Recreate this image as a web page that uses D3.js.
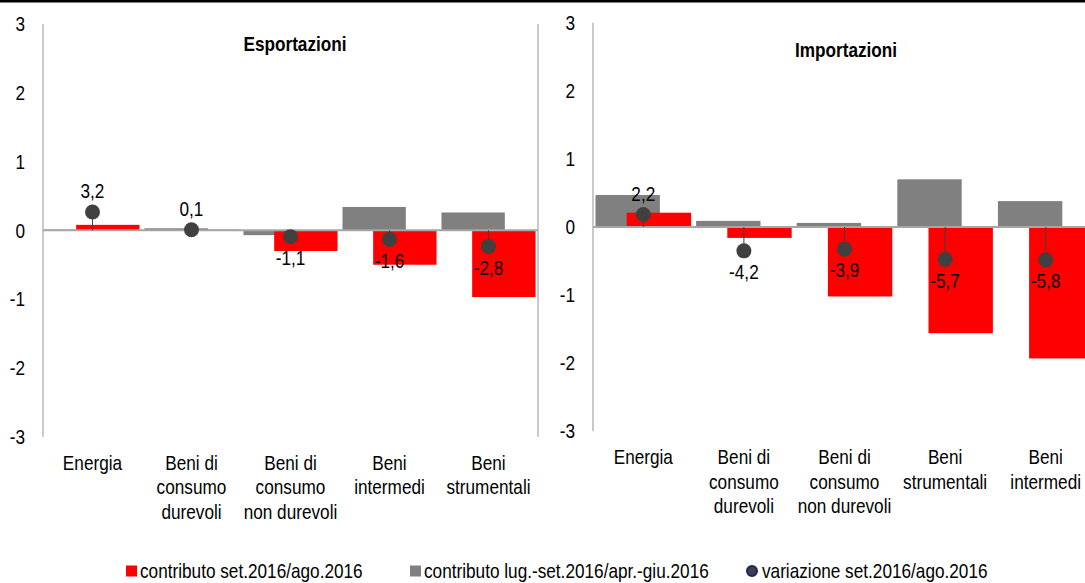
<!DOCTYPE html>
<html>
<head>
<meta charset="utf-8">
<script src="https://cdn.jsdelivr.net/npm/d3@7"></script>
<style>
  body { margin: 0; background: #fff; }
  svg { display: block; font-family: "Liberation Sans", Arial, sans-serif; }
</style>
</head>
<body>
<div id="chart"></div>
<script>
// categories (line breaks as in the original labels)
const categoriesExp = ["Energia", "Beni di\nconsumo\ndurevoli", "Beni di\nconsumo\nnon durevoli", "Beni\nintermedi", "Beni\nstrumentali"];
const categoriesImp = ["Energia", "Beni di\nconsumo\ndurevoli", "Beni di\nconsumo\nnon durevoli", "Beni\nstrumentali", "Beni\nintermedi"];

// contributo set.2016/ago.2016
const expMonth = [0.08, 0.01, -0.30, -0.50, -0.97];
const impMonth = [0.21, -0.16, -1.02, -1.56, -1.93];
// contributo lug.-set.2016/apr.-giu.2016
const expQuarter = [0.01, 0.03, -0.07, 0.34, 0.26];
const impQuarter = [0.47, 0.09, 0.06, 0.70, 0.38];
// variazione set.2016/ago.2016 (secondary axis)
const expChange = [3.2, 0.1, -1.1, -1.6, -2.8];
const impChange = [2.2, -4.2, -3.9, -5.7, -5.8];

const yTicks = [3, 2, 1, 0, -1, -2, -3];
const seriesNames = ["contributo set.2016/ago.2016", "contributo lug.-set.2016/apr.-giu.2016", "variazione set.2016/ago.2016"];

const width = 1085, height = 583;
const red = "#ff0000", grey = "#808080", dot = "#404040", axisGrey = "#a6a6a6";
const narrowK = 0.86; // no Arial Narrow here, so squeeze Liberation Sans
const fmt = v => v.toFixed(1).replace(".", ",");

let svg = d3.select("#chart").append("svg")
  .attr("width", width)
  .attr("height", height);

// thick rule at the top
svg.append("rect")
  .attr("x", 0).attr("y", 0)
  .attr("width", width).attr("height", 2.5)
  .attr("fill", "#000");

function panel(cfg) {
  let g = svg.append("g");

  let x = d3.scaleBand()
    .domain(cfg.categories)
    .range([cfg.left, cfg.right]);

  let y = d3.scaleLinear()
    .domain([-3, 3])
    .range([cfg.bottom, cfg.top]);

  // secondary (hidden) axis for the dots
  let y2 = d3.scaleLinear()
    .domain([-36, 36])
    .range([cfg.bottom, cfg.top]);

  const bw = x.bandwidth(),
    barW = bw * 0.64,
    shift = bw * 0.31;
  const cx = d => x(d) + bw / 2;

  // y tick labels
  g.selectAll(".ytick")
    .data(yTicks)
    .enter().append("text")
    .attr("x", cfg.left - 18)
    .attr("y", d => y(d))
    .attr("dy", "0.36em")
    .attr("text-anchor", "end")
    .attr("font-size", 20)
    .attr("fill", "#000")
    .text(d => d);

  // plot frame lines
  [cfg.left, cfg.right].forEach(px => {
    g.append("line")
      .attr("x1", px).attr("x2", px)
      .attr("y1", y(3)).attr("y2", y(-3))
      .attr("stroke", axisGrey)
      .attr("stroke-width", 1.2);
  });

  // grey bars behind, red in front
  g.selectAll(".bar-q")
    .data(cfg.categories)
    .enter().append("rect")
    .attr("x", d => cx(d) - shift / 2 - barW / 2)
    .attr("width", barW)
    .attr("y", (d, i) => y(Math.max(0, cfg.quarter[i])))
    .attr("height", (d, i) => Math.abs(y(cfg.quarter[i]) - y(0)))
    .attr("fill", grey);

  g.selectAll(".bar-m")
    .data(cfg.categories)
    .enter().append("rect")
    .attr("x", d => cx(d) + shift / 2 - barW / 2)
    .attr("width", barW)
    .attr("y", (d, i) => y(Math.max(0, cfg.month[i])))
    .attr("height", (d, i) => Math.abs(y(cfg.month[i]) - y(0)))
    .attr("fill", red);

  // zero line
  g.append("line")
    .attr("x1", cfg.left).attr("x2", cfg.right)
    .attr("y1", y(0)).attr("y2", y(0))
    .attr("stroke", axisGrey)
    .attr("stroke-width", 2);

  // drop lines + dots
  g.selectAll(".drop")
    .data(cfg.categories)
    .enter().append("line")
    .attr("x1", cx).attr("x2", cx)
    .attr("y1", y(0))
    .attr("y2", (d, i) => y2(cfg.change[i]))
    .attr("stroke", dot)
    .attr("stroke-width", 1);

  g.selectAll(".dot")
    .data(cfg.categories)
    .enter().append("circle")
    .attr("cx", cx)
    .attr("cy", (d, i) => y2(cfg.change[i]))
    .attr("r", 7.5)
    .attr("fill", dot);

  g.selectAll(".dlabel")
    .data(cfg.categories)
    .enter().append("text")
    .attr("x", cx)
    .attr("y", (d, i) => y2(cfg.change[i]) + (cfg.change[i] >= 0 ? -21 : 21))
    .attr("dy", "0.36em")
    .attr("text-anchor", "middle")
    .attr("font-size", 20)
    .attr("fill", "#000")
    .text((d, i) => fmt(cfg.change[i]));

  // category labels
  let cats = g.selectAll(".cat")
    .data(cfg.categories)
    .enter().append("text")
    .attr("x", cx)
    .attr("text-anchor", "middle")
    .attr("font-size", 20)
    .attr("fill", "#000");

  cats.selectAll("tspan")
    .data(d => d.split("\n").map(s => [d, s]))
    .enter().append("tspan")
    .attr("x", d => cx(d[0]))
    .attr("y", (d, i) => cfg.bottom + 33 + i * 24.5)
    .text(d => d[1]);

  // title
  g.append("text")
    .attr("x", cfg.titleX)
    .attr("y", cfg.titleY)
    .attr("dy", "0.36em")
    .attr("text-anchor", "middle")
    .attr("font-size", 20)
    .attr("font-weight", "bold")
    .text(cfg.title);
}

panel({
  categories: categoriesExp,
  month: expMonth, quarter: expQuarter, change: expChange,
  left: 43, right: 538, top: 24, bottom: 436.7,
  title: "Esportazioni", titleX: 295, titleY: 44
});

panel({
  categories: categoriesImp,
  month: impMonth, quarter: impQuarter, change: impChange,
  left: 593, right: 1096, top: 22.7, bottom: 431.3,
  title: "Importazioni", titleX: 846, titleY: 50
});

// legend
const legendX = [126, 410, 752];
const legendY = 571;
let legend = svg.append("g")
  .attr("font-size", 20)
  .attr("fill", "#000");

seriesNames.forEach((name, i) => {
  if (i < 2) {
    legend.append("rect")
      .attr("x", legendX[i]).attr("y", legendY - 5.5)
      .attr("width", 11).attr("height", 11)
      .attr("fill", i === 0 ? red : grey);
  } else {
    legend.append("circle")
      .attr("cx", legendX[i]).attr("cy", legendY)
      .attr("r", 5)
      .attr("fill", dot)
      .attr("stroke", "#1f2070")
      .attr("stroke-width", 2);
  }
  legend.append("text")
    .attr("x", legendX[i] + (i < 2 ? 14 : 10))
    .attr("y", legendY)
    .attr("dy", "0.34em")
    .text(name);
});

// squeeze every text horizontally around its anchor x
svg.selectAll("text").each(function () {
  const ax = +this.getAttribute("x");
  d3.select(this).attr("transform", "translate(" + ax * (1 - narrowK) + ",0) scale(" + narrowK + ",1)");
});
</script>
</body>
</html>
